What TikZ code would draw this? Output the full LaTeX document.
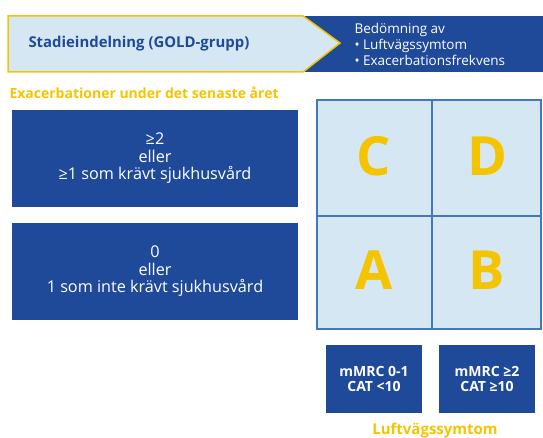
\documentclass[tikz,border=0pt]{standalone}
\usepackage{fontspec}
\setmainfont{Open Sans}
\definecolor{dblue}{HTML}{1F4A9A}
\definecolor{lblue}{HTML}{D5E7F2}
\definecolor{gline}{HTML}{4379BA}
\definecolor{gold}{HTML}{F5C400}
\begin{document}
\begin{tikzpicture}[x=1pt,y=-1pt,
  darkbox/.style={fill=dblue,draw=none,text=white,align=center,font=\fontsize{16.2}{17.5}\selectfont},
  smallbox/.style={fill=dblue,draw=none,text=white,align=center,font=\fontsize{14}{15}\selectfont\bfseries},
  letter/.style={text=gold,font=\fontsize{54}{54}\selectfont\bfseries},
  goldtext/.style={text=gold,font=\fontsize{14}{15}\selectfont\bfseries}]
\useasboundingbox (0,0) rectangle (543,438);
% header band
\fill[dblue] (305,16) rectangle (543,72);
\filldraw[fill=lblue,draw=gold,line width=1.5pt] (8,16) -- (303,16) -- (340,43) -- (303,72) -- (8,72) -- cycle;
\node[anchor=west,text=dblue,font=\fontsize{14.9}{17}\selectfont\bfseries] (hdr) at (25,44) {Stadieindelning (GOLD-grupp)};
\node[anchor=west,text=white,align=left,font=\fontsize{13.5}{16}\selectfont] (assess) at (351,44) {Bedömning av\\• Luftvägssymtom\\• Exacerbationsfrekvens};
% left title
\node[anchor=west,goldtext] (extitle) at (6,93) {Exacerbationer under det senaste året};
% left boxes
\node[darkbox,minimum width=286pt,minimum height=97pt] (hi) at (155,158.5) {≥2\\eller\\≥1 som krävt sjukhusvård};
\node[darkbox,minimum width=286pt,minimum height=97pt] (lo) at (155,271.5) {0\\eller\\1 som inte krävt sjukhusvård};
% grid
\filldraw[fill=lblue,draw=gline,line width=1.2pt] (317,100) rectangle (541,329);
\draw[gline,line width=1.2pt] (432,100) -- (432,329);
\draw[gline,line width=1.2pt] (317,216) -- (541,216);
\node[letter] (C) at (374,156) {C};
\node[letter] (D) at (487,156) {D};
\node[letter] (A) at (374,270) {A};
\node[letter] (B) at (487,270) {B};
% bottom boxes
\node[smallbox,minimum width=96pt,minimum height=68pt] (s1) at (374,379) {mMRC 0-1\\CAT <10};
\node[smallbox,minimum width=96pt,minimum height=68pt] (s2) at (487,379) {mMRC ≥2\\CAT ≥10};
\node[goldtext,font=\fontsize{15}{15}\selectfont\bfseries] (sym) at (435,431) {Luftvägssymtom};
\end{tikzpicture}
\end{document}
